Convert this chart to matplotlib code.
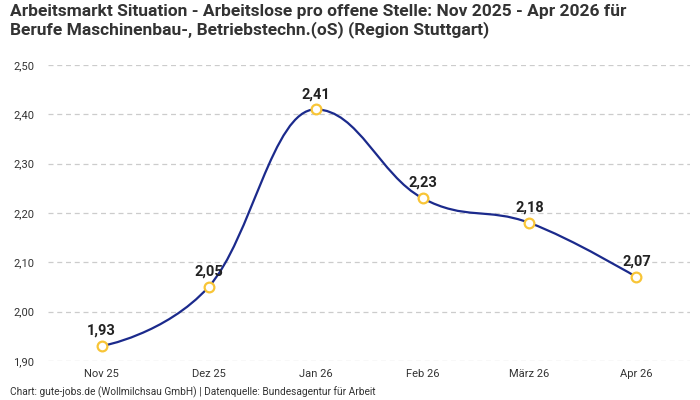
import matplotlib
matplotlib.use("Agg")
import matplotlib.pyplot as plt
from matplotlib.path import Path
from matplotlib.patches import PathPatch

plt.rcParams['font.family'] = ['Roboto', 'DejaVu Sans']

months = ["Nov 25", "Dez 25", "Jan 26", "Feb 26", "März 26", "Apr 26"]
values = [1.93, 2.05, 2.41, 2.23, 2.18, 2.07]
y_ticks = [1.90, 2.00, 2.10, 2.20, 2.30, 2.40, 2.50]

title = ("Arbeitsmarkt Situation - Arbeitslose pro offene Stelle: Nov 2025 - Apr 2026 für\n"
         "Berufe Maschinenbau-, Betriebstechn.(oS) (Region Stuttgart)")
footer = "Chart: gute-jobs.de (Wollmilchsau GmbH) | Datenquelle: Bundesagentur für Arbeit"

line_color = "#1b2a8c"
marker_edge = "#f8c537"


def spline_path(xs, ys, smoothing=1.5):
    # highcharts-style spline: control points per inner point
    n = len(xs)
    left = [None] * n
    right = [None] * n
    d = smoothing + 1
    for i in range(1, n - 1):
        x, y = xs[i], ys[i]
        lx, ly = xs[i - 1], ys[i - 1]
        nx, ny = xs[i + 1], ys[i + 1]
        lcx = (smoothing * x + lx) / d
        lcy = (smoothing * y + ly) / d
        rcx = (smoothing * x + nx) / d
        rcy = (smoothing * y + ny) / d
        corr = (rcy - lcy) * (rcx - x) / (rcx - lcx) + y - rcy
        lcy += corr
        rcy += corr
        if lcy > ly and lcy > y:
            lcy = max(ly, y)
            rcy = 2 * y - lcy
        elif lcy < ly and lcy < y:
            lcy = min(ly, y)
            rcy = 2 * y - lcy
        if rcy > ny and rcy > y:
            rcy = max(ny, y)
            lcy = 2 * y - rcy
        elif rcy < ny and rcy < y:
            rcy = min(ny, y)
            lcy = 2 * y - rcy
        left[i] = (lcx, lcy)
        right[i] = (rcx, rcy)
    verts = [(xs[0], ys[0])]
    codes = [Path.MOVETO]
    for i in range(1, n):
        c1 = right[i - 1] or (xs[i - 1], ys[i - 1])
        c2 = left[i] or (xs[i], ys[i])
        verts += [c1, c2, (xs[i], ys[i])]
        codes += [Path.CURVE4] * 3
    return Path(verts, codes)


fig = plt.figure(figsize=(7, 4), dpi=100)
ax = fig.add_axes([0.0686, 0.0975, 0.9171, 0.74])

x = list(range(len(months)))
ax.add_patch(PathPatch(spline_path(x, values), facecolor="none",
                       edgecolor=line_color, lw=1.6, zorder=3))
ax.plot(x, values, linestyle="none", marker="o", markersize=7,
        markerfacecolor="white", markeredgecolor=marker_edge,
        markeredgewidth=1.6, zorder=4)

for xi, v in zip(x, values):
    ax.annotate(f"{v:.2f}".replace(".", ","), (xi, v), xytext=(0, 6),
                textcoords="offset points", ha="center", va="bottom",
                fontsize=10.5, fontweight="bold", color="#222222", zorder=5)

ax.set_xlim(-0.5, len(months) - 0.5)
ax.set_ylim(1.90, 2.50)
ax.set_xticks(x)
ax.set_xticklabels(months)
ax.set_yticks(y_ticks)
ax.set_yticklabels([f"{t:.2f}".replace(".", ",") for t in y_ticks])
ax.tick_params(length=0, labelsize=8, colors="#333333")
ax.tick_params(axis="x", pad=6)
ax.tick_params(axis="y", pad=10)

ax.grid(axis="y", linestyle=(0, (4, 3)), color="#cccccc", lw=0.9)
ax.set_axisbelow(True)
for s in ax.spines.values():
    s.set_visible(False)

fig.text(0.014, 0.99, title, ha="left", va="top", fontsize=12.5,
         fontweight="bold", color="#333333", linespacing=1.15)
fig.text(0.014, 0.006, footer, ha="left", va="bottom", fontsize=7.3,
         color="#333333")

fig.savefig("out.png", dpi=100)
